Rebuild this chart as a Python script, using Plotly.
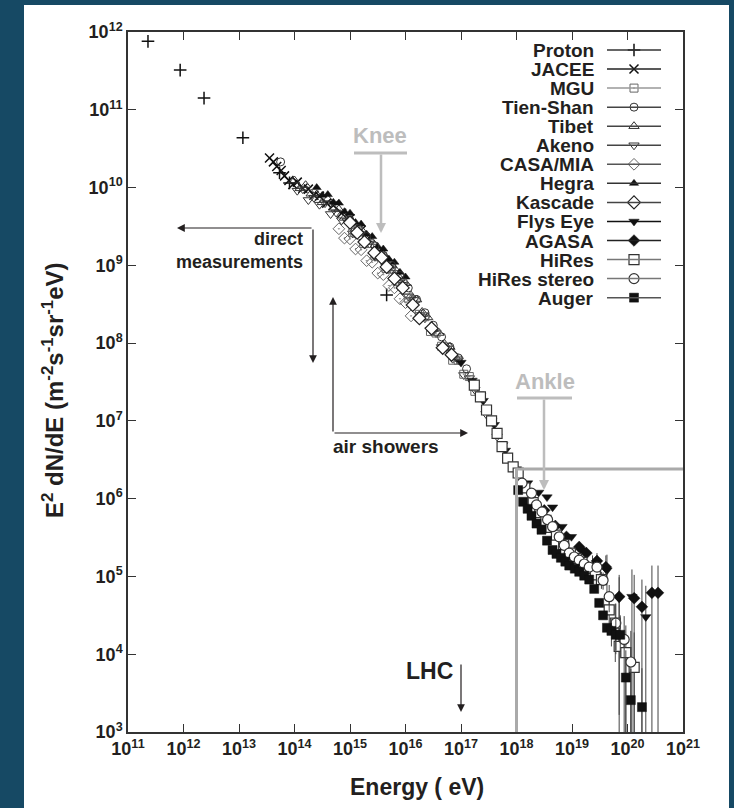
import numpy as np
import plotly.graph_objects as go

# ---------------- data: log10(Energy / eV), log10(E^2 dN/dE) ----------------
PROTON_E = [11.36, 11.94, 12.37, 13.07, 13.73, 13.91, 15.66]
PROTON_F = [11.88, 11.51, 11.15, 10.64, 10.19, 10.06, 8.62]

JACEE_E = [13.55, 13.62, 13.68, 13.76, 13.82, 13.90, 13.97, 14.05, 14.15, 14.25, 14.35,
           14.45, 14.58, 14.70, 14.85, 15.00, 15.20]
JACEE_F = [10.38, 10.33, 10.27, 10.22, 10.15, 10.09, 10.04, 10.07, 9.99, 9.98, 9.90,
           9.89, 9.80, 9.77, 9.67, 9.60, 9.45]

MGU_E = [15.05, 15.15, 15.25, 15.35, 15.45, 15.55, 15.65, 15.75, 15.85, 15.95, 16.05, 16.15,
         16.25, 16.35, 16.45, 16.55, 16.65, 16.75, 16.85, 16.95, 17.05, 17.15, 17.25, 17.35]
MGU_F = [9.42, 9.43, 9.28, 9.28, 9.12, 9.12, 8.96, 8.95, 8.79, 8.77, 8.58, 8.56,
         8.37, 8.34, 8.15, 8.13, 7.96, 7.95, 7.78, 7.78, 7.60, 7.57, 7.38, 7.32]

TIENSHAN_E = [13.75, 15.00, 15.15, 15.30, 15.45, 15.60, 15.75, 15.90, 16.05, 16.20, 16.35,
              16.50, 16.65, 16.80, 16.95, 17.10]
TIENSHAN_F = [10.33, 9.58, 9.47, 9.37, 9.25, 9.13, 9.00, 8.87, 8.71, 8.56, 8.39,
              8.23, 8.08, 7.95, 7.81, 7.67]

TIBET_E = [14.0, 14.1, 14.2, 14.3, 14.4, 14.5, 14.6, 14.7, 14.8, 14.9, 15.0, 15.1, 15.2, 15.3,
           15.4, 15.5, 15.6, 15.7, 15.8, 15.9, 16.0, 16.1, 16.2, 16.3, 16.4, 16.5, 16.6, 16.7,
           16.8, 16.9]
TIBET_F = [10.09, 9.99, 10.03, 9.92, 9.91, 9.81, 9.85, 9.74, 9.72, 9.61, 9.60, 9.47, 9.46, 9.33,
           9.30, 9.16, 9.14, 9.00, 8.96, 8.83, 8.77, 8.61, 8.56, 8.40, 8.33, 8.18, 8.13, 7.99,
           7.95, 7.82]

AKENO_E = [14.05, 14.15, 14.25, 14.35, 14.45, 14.55, 14.65, 14.75, 14.85, 14.95, 15.05, 15.15,
           15.25, 15.35, 15.45, 15.55, 15.65, 15.75, 15.85, 15.95, 16.05, 16.15, 16.25, 16.35,
           16.45, 16.55, 16.65, 16.75, 16.85, 16.95, 17.05, 17.15, 17.25, 17.35, 17.45, 17.55,
           17.65, 17.75]
AKENO_F = [9.96, 9.98, 9.84, 9.87, 9.78, 9.80, 9.66, 9.68, 9.58, 9.57, 9.41, 9.41,
           9.30, 9.28, 9.11, 9.10, 8.98, 8.95, 8.78, 8.75, 8.60, 8.56, 8.36, 8.32,
           8.17, 8.13, 7.95, 7.93, 7.80, 7.78, 7.59, 7.55, 7.40, 7.32, 7.09, 7.00,
           6.80, 6.69]

CASA_E = [14.8, 14.9, 15.0, 15.1, 15.2, 15.3, 15.4, 15.5, 15.6, 15.7, 15.8, 15.9, 16.0, 16.1]
CASA_F = [9.47, 9.35, 9.34, 9.21, 9.20, 9.06, 9.04, 8.90, 8.88, 8.74, 8.71, 8.57, 8.52, 8.35]

HEGRA_E = [14.4, 14.5, 14.6, 14.7, 14.8, 14.9, 15.0, 15.1, 15.2, 15.3, 15.4, 15.5, 15.6, 15.7,
           15.8, 15.9, 16.0]
HEGRA_F = [10.00, 9.90, 9.91, 9.81, 9.80, 9.69, 9.67, 9.55, 9.53, 9.40, 9.37, 9.24, 9.21, 9.08,
           9.04, 8.91, 8.85]

KASCADE_E = [15.00, 15.13, 15.26, 15.44, 15.57, 15.66, 15.80, 15.95, 16.13, 16.25, 16.47,
             16.67, 16.83]
KASCADE_F = [9.55, 9.42, 9.30, 9.16, 9.10, 8.98, 8.83, 8.71, 8.49, 8.32, 8.19, 7.94, 7.85]

FLYS_E = [17.0, 17.2, 17.4, 17.6, 17.8, 18.0, 18.2, 18.4, 18.55, 18.65, 18.82, 18.99,
          19.17, 19.37, 19.63, 19.85, 20.08, 20.33]
FLYS_F = [7.75, 7.52, 7.26, 6.95, 6.62, 6.38, 6.20, 6.08, 6.02, 5.89, 5.64, 5.51,
          5.34, 5.12, 5.08, 4.72, 4.74, 4.48]
FLYS_UP = [0] * 13 + [0.15, 0.20, 0.30, 0.35, 0.40]
FLYS_DN = [0] * 13 + [0.20, 0.30, 1.50, 2.00, 2.00]

AGASA_E = [18.5, 18.7, 18.9, 19.13, 19.26, 19.45, 19.61, 19.85, 20.12, 20.26, 20.44, 20.55]
AGASA_F = [5.85, 5.65, 5.51, 5.38, 5.30, 5.20, 5.12, 4.74, 4.72, 4.61, 4.79, 4.79]
AGASA_UP = [0, 0, 0, 0, 0, 0.10, 0.15, 0.25, 0.30, 0.35, 0.35, 0.35]
AGASA_DN = [0, 0, 0, 0, 0, 0.12, 0.20, 0.50, 2.00, 2.00, 2.00, 2.00]

HIRES_E = [17.24, 17.35, 17.46, 17.55, 17.65, 17.74, 17.84, 17.94, 18.03, 18.15, 18.30,
           18.42, 18.53, 18.62, 18.72, 18.85, 18.97, 19.08, 19.18, 19.30, 19.42,
           19.53, 19.67, 19.78, 19.85, 19.97, 20.12]
HIRES_F = [7.46, 7.31, 7.14, 7.00, 6.84, 6.67, 6.52, 6.41, 6.33, 6.14, 5.95,
           5.82, 5.72, 5.63, 5.53, 5.41, 5.30, 5.23, 5.18, 5.10, 5.02,
           4.96, 4.57, 4.40, 4.10, 4.02, 3.83]
HIRES_UP = [0] * 21 + [0.10, 0.20, 0.25, 0.30, 0.35, 0.45]
HIRES_DN = [0] * 21 + [0.12, 0.30, 0.50, 2.00, 2.00, 2.00]

HIRESST_E = [18.10, 18.27, 18.36, 18.46, 18.56, 18.65, 18.77, 18.86, 18.95, 19.04,
             19.13, 19.22, 19.31, 19.45, 19.56, 19.67, 19.79, 19.94, 20.06]
HIRESST_F = [6.20, 6.07, 5.92, 5.83, 5.73, 5.64, 5.51, 5.40, 5.30, 5.25,
             5.21, 5.16, 5.12, 5.12, 4.95, 4.74, 4.40, 4.19, 3.90]
HIRESST_UP = [0] * 14 + [0.10, 0.15, 0.25, 0.30, 0.40]
HIRESST_DN = [0] * 14 + [0.12, 0.20, 0.35, 2.00, 2.00]

AUGER_E = [18.03, 18.12, 18.20, 18.27, 18.36, 18.45, 18.55, 18.65, 18.72, 18.80, 18.88,
           18.95, 19.05, 19.13, 19.22, 19.31, 19.40, 19.49, 19.56, 19.63, 19.71,
           19.79, 19.87, 19.97, 20.06, 20.26]
AUGER_F = [6.11, 5.96, 5.87, 5.78, 5.68, 5.60, 5.46, 5.34, 5.29, 5.24, 5.19,
           5.14, 5.10, 5.06, 5.01, 4.96, 4.84, 4.66, 4.50, 4.34, 4.30,
           4.25, 4.25, 3.70, 3.41, 3.32]
AUGER_UP = [0] * 20 + [0.15, 0.20, 0.25, 0.35, 0.40, 0.50]
AUGER_DN = [0] * 20 + [0.20, 0.25, 0.30, 2.00, 2.00, 2.00]

NAMES = ["Proton", "JACEE", "MGU", "Tien-Shan", "Tibet", "Akeno", "CASA/MIA", "Hegra",
         "Kascade", "Flys Eye", "AGASA", "HiRes", "HiRes stereo", "Auger"]

DATA = {
    "Proton": (PROTON_E, PROTON_F, None, None),
    "JACEE": (JACEE_E, JACEE_F, None, None),
    "MGU": (MGU_E, MGU_F, None, None),
    "Tien-Shan": (TIENSHAN_E, TIENSHAN_F, None, None),
    "Tibet": (TIBET_E, TIBET_F, None, None),
    "Akeno": (AKENO_E, AKENO_F, None, None),
    "CASA/MIA": (CASA_E, CASA_F, None, None),
    "Hegra": (HEGRA_E, HEGRA_F, None, None),
    "Kascade": (KASCADE_E, KASCADE_F, None, None),
    "Flys Eye": (FLYS_E, FLYS_F, FLYS_UP, FLYS_DN),
    "AGASA": (AGASA_E, AGASA_F, AGASA_UP, AGASA_DN),
    "HiRes": (HIRES_E, HIRES_F, HIRES_UP, HIRES_DN),
    "HiRes stereo": (HIRESST_E, HIRESST_F, HIRESST_UP, HIRESST_DN),
    "Auger": (AUGER_E, AUGER_F, AUGER_UP, AUGER_DN),
}

X_TICKS = list(range(11, 22))
Y_TICKS = list(range(3, 13))

# ---------------- styles ----------------
FONT = "Liberation Sans, Arial, Helvetica, sans-serif"
INK = "#231f20"
GREY = "#bdbdbd"
BG = "#164964"

STYLE = {
    "Proton": dict(symbol="cross-thin-open", size=9, color="#111", line=dict(color="#111", width=1.5)),
    "JACEE": dict(symbol="x-thin-open", size=9, color="#111", line=dict(color="#111", width=1.5)),
    "MGU": dict(symbol="square-open-dot", size=8, color="#666", line=dict(color="#666", width=1)),
    "Tien-Shan": dict(symbol="circle-open", size=8, color="#333", line=dict(color="#333", width=1)),
    "Tibet": dict(symbol="triangle-up-open", size=9, color="#333", line=dict(color="#333", width=1)),
    "Akeno": dict(symbol="triangle-down-open", size=9, color="#333", line=dict(color="#333", width=1)),
    "CASA/MIA": dict(symbol="diamond-open-dot", size=9, color="#666", line=dict(color="#666", width=1)),
    "Hegra": dict(symbol="triangle-up", size=8, color="#111", line=dict(color="#111", width=0.5)),
    "Kascade": dict(symbol="diamond", size=10, color="white", line=dict(color="#222", width=1.2)),
    "Flys Eye": dict(symbol="triangle-down", size=9, color="#111", line=dict(color="#111", width=0.5)),
    "AGASA": dict(symbol="diamond", size=9, color="#111", line=dict(color="#111", width=0.5)),
    "HiRes": dict(symbol="square", size=10, color="white", line=dict(color="#333", width=1.2)),
    "HiRes stereo": dict(symbol="circle", size=10, color="white", line=dict(color="#333", width=1.2)),
    "Auger": dict(symbol="square", size=9, color="#111", line=dict(color="#111", width=0.5)),
}
LEG_LINE = {"Proton": "#333", "JACEE": "#222", "MGU": "#999", "Tien-Shan": "#444",
            "Tibet": "#444", "Akeno": "#444", "CASA/MIA": "#555", "Hegra": "#333",
            "Kascade": "#444", "Flys Eye": "#111", "AGASA": "#222", "HiRes": "#777",
            "HiRes stereo": "#777", "Auger": "#555"}

# plot-area pixel frame
L, R, T, B = 128, 683, 32, 732
W, H = 734, 808


def px(logE):
    return L + (logE - 11) / 10 * (R - L)


def py(logF):
    return B - (logF - 3) / 9 * (B - T)


fig = go.Figure()

draw_order = ["Proton", "JACEE", "Tibet", "Akeno", "Hegra", "MGU", "CASA/MIA", "Tien-Shan",
              "Kascade", "Flys Eye", "AGASA", "HiRes", "HiRes stereo", "Auger"]
for name in draw_order:
    e, f, up, dn = DATA[name]
    e = np.array(e, float)
    f = np.array(f, float)
    x = 10.0 ** e
    y = 10.0 ** f
    kw = {}
    if up is not None:
        upv = 10.0 ** (f + np.array(up, float)) - y
        dnv = y - 10.0 ** (f - np.array(dn, float))
        kw["error_y"] = dict(type="data", array=upv, arrayminus=dnv, symmetric=False,
                             color="#444", thickness=1, width=0)
    fig.add_trace(go.Scatter(x=x, y=y, mode="markers", name=name,
                             marker=STYLE[name], showlegend=False, **kw))

# ---------------- hand-drawn legend (text left, sample right) ----------------
LEG_TOP, LEG_STEP = 50, 19.05
LEG_TEXT_X, LEG_L0, LEG_L1 = 596, 607, 661
shapes = []
annotations = []
for i, name in enumerate(NAMES):
    yy = LEG_TOP + i * LEG_STEP
    shapes.append(dict(type="line", xref="x2", yref="y2", x0=LEG_L0, x1=LEG_L1, y0=yy, y1=yy,
                       line=dict(color=LEG_LINE[name], width=1.5)))
    annotations.append(dict(xref="x2", yref="y2", x=LEG_TEXT_X, y=yy + 0.5, text=name, showarrow=False,
                            xanchor="right", yanchor="middle",
                            font=dict(family=FONT, size=19, color=INK, weight="bold")))
    fig.add_trace(go.Scatter(x=[(LEG_L0 + LEG_L1) / 2], y=[yy], mode="markers", xaxis="x2",
                             yaxis="y2", marker=STYLE[name], showlegend=False, hoverinfo="skip"))

# white panel behind the chart
shapes.insert(0, dict(type="rect", xref="paper", yref="paper", layer="below",
                      x0=(24 - L) / (R - L), x1=(729 - L) / (R - L),
                      y0=(B - 820) / (B - T), y1=(B - 5) / (B - T),
                      fillcolor="white", line=dict(width=0)))

# grey L at 10^18 marking the ankle region
x18 = px(18)
yA = py(6.38)
shapes.append(dict(type="line", xref="x2", yref="y2", x0=x18, x1=x18, y0=B, y1=yA,
                   line=dict(color="#aaaaaa", width=3)))
shapes.append(dict(type="line", xref="x2", yref="y2", x0=x18, x1=R, y0=yA, y1=yA,
                   line=dict(color="#aaaaaa", width=3)))

# Knee
shapes.append(dict(type="line", xref="x2", yref="y2", x0=354, x1=407, y0=153, y1=153,
                   line=dict(color=GREY, width=3)))
annotations.append(dict(xref="x2", yref="y2", x=380, y=135, text="Knee", showarrow=False,
                        font=dict(family=FONT, size=22, color=GREY, weight="bold")))
annotations.append(dict(xref="x2", yref="y2", axref="x2", ayref="y2", x=381, y=233, ax=381, ay=153,
                        text="", showarrow=True, arrowhead=2, arrowsize=0.8, arrowwidth=2.5,
                        arrowcolor=GREY))
# Ankle
shapes.append(dict(type="line", xref="x2", yref="y2", x0=517, x1=572, y0=398, y1=398,
                   line=dict(color=GREY, width=3)))
annotations.append(dict(xref="x2", yref="y2", x=545, y=381, text="Ankle", showarrow=False,
                        font=dict(family=FONT, size=22, color=GREY, weight="bold")))
annotations.append(dict(xref="x2", yref="y2", axref="x2", ayref="y2", x=544, y=490, ax=544, ay=398,
                        text="", showarrow=True, arrowhead=2, arrowsize=0.8, arrowwidth=2.5,
                        arrowcolor=GREY))


def arrow(x0, y0, x1, y1, color=INK):
    annotations.append(dict(xref="x2", yref="y2", axref="x2", ayref="y2", x=x1, y=y1, ax=x0, ay=y0,
                            text="", showarrow=True, arrowhead=2, arrowsize=1.3, arrowwidth=1.2,
                            arrowcolor=color))


# direct measurements
arrow(313, 228, 177, 228)
arrow(313, 228, 313, 363)
annotations.append(dict(xref="x2", yref="y2", x=305, y=250, text="direct<br>measurements",
                        showarrow=False, xanchor="right", yanchor="middle", align="right",
                        font=dict(family=FONT, size=18, color=INK, weight="bold")))
# air showers
arrow(333, 433, 333, 297)
arrow(333, 433, 468, 433)
annotations.append(dict(xref="x2", yref="y2", x=386, y=446, text="air showers", showarrow=False,
                        xanchor="center", yanchor="middle",
                        font=dict(family=FONT, size=19, color=INK, weight="bold")))
# LHC
x17 = px(17)
arrow(x17, 663, x17, 712)
annotations.append(dict(xref="x2", yref="y2", x=429, y=671, text="LHC", showarrow=False,
                        xanchor="center", yanchor="middle",
                        font=dict(family=FONT, size=23, color=INK, weight="bold")))

# axis titles
annotations.append(dict(xref="paper", yref="paper", x=(417 - L) / (R - L), y=(B - 787) / (B - T),
                        text="Energy ( eV)", showarrow=False, xanchor="center", yanchor="middle",
                        font=dict(family=FONT, size=23, color=INK, weight="bold")))
annotations.append(dict(xref="paper", yref="paper", x=(53 - L) / (R - L), y=(B - 390) / (B - T),
                        text="E<sup>2</sup> dN/dE (m<sup>-2</sup>s<sup>-1</sup>sr<sup>-1</sup>eV)",
                        textangle=-90, showarrow=False, xanchor="center", yanchor="middle",
                        font=dict(family=FONT, size=24, color=INK, weight="bold")))

axis_common = dict(showgrid=False, zeroline=False, showline=True, linecolor="#333", linewidth=1.5,
                   mirror="ticks", ticks="inside", ticklen=8, tickwidth=1.2, tickcolor="#333",
                   tickfont=dict(family=FONT, size=18, color=INK, weight="bold"))

fig.update_layout(
    width=W, height=H,
    margin=dict(l=L, r=W - R, t=T, b=H - B),
    paper_bgcolor=BG, plot_bgcolor="white",
    showlegend=False,
    shapes=shapes, annotations=annotations,
    xaxis=dict(type="log", range=[11, 21], tickvals=[10.0 ** v for v in X_TICKS],
               ticktext=[f"10<sup>{v}</sup>" for v in X_TICKS], **axis_common),
    yaxis=dict(type="log", range=[3, 12], tickvals=[10.0 ** v for v in Y_TICKS],
               ticktext=[f"10<sup>{v}</sup>" for v in Y_TICKS], **axis_common),
    xaxis2=dict(range=[L, R], overlaying="x", visible=False, fixedrange=True),
    yaxis2=dict(range=[B, T], overlaying="y", visible=False, fixedrange=True),
)

fig.write_html("out.html")
